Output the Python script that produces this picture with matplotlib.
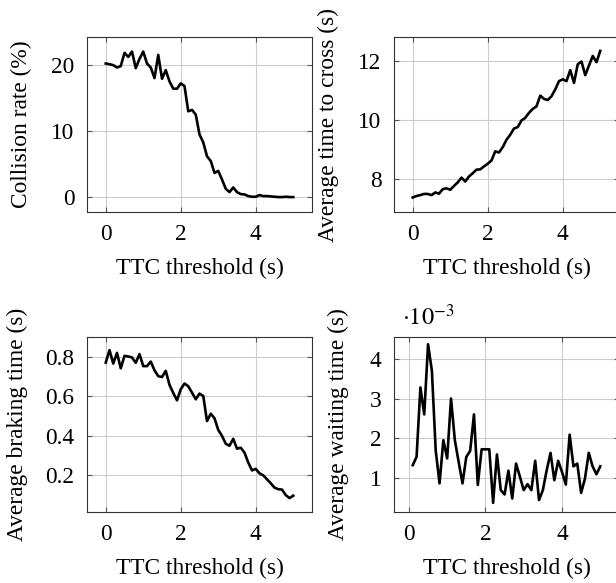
# TTC threshold sweep: collision rate, crossing time, braking time, waiting time

import matplotlib
matplotlib.use('Agg')
import matplotlib.pyplot as plt

ttc = [round(0.1 * i, 1) for i in range(51)]
ttc_wait = ttc[1:]

collision_rate = [20.2, 20.1, 19.95, 19.6, 19.8, 21.8, 21.2, 22.0, 19.5, 20.9,
                  22.0, 20.2, 19.6, 18.0, 21.5, 17.9, 19.2, 17.5, 16.4, 16.4,
                  17.2, 16.8, 13.0, 13.2, 12.5, 9.5, 8.3, 6.2, 5.5, 3.7,
                  4.0, 2.7, 1.3, 0.8, 1.5, 0.8, 0.5, 0.45, 0.2, 0.1,
                  0.1, 0.35, 0.2, 0.2, 0.15, 0.1, 0.05, 0.05, 0.1, 0.05, 0.05]

time_to_cross = [7.38, 7.43, 7.46, 7.50, 7.50, 7.46, 7.55, 7.51, 7.66, 7.69,
                 7.64, 7.77, 7.89, 8.05, 7.92, 8.09, 8.20, 8.32, 8.33, 8.43,
                 8.52, 8.63, 8.94, 8.90, 9.08, 9.33, 9.50, 9.71, 9.76, 9.98,
                 10.07, 10.24, 10.37, 10.46, 10.82, 10.71, 10.67, 10.80, 11.03, 11.31,
                 11.37, 11.31, 11.68, 11.25, 11.88, 11.97, 11.51, 11.84, 12.16, 11.95, 12.33]

braking_time = [0.771, 0.834, 0.766, 0.820, 0.742, 0.805, 0.802, 0.797, 0.770, 0.814,
                0.753, 0.753, 0.776, 0.732, 0.702, 0.698, 0.729, 0.658, 0.617, 0.580,
                0.636, 0.665, 0.651, 0.619, 0.585, 0.614, 0.602, 0.475, 0.512, 0.489,
                0.43, 0.40, 0.36, 0.35, 0.385, 0.335, 0.34, 0.315, 0.265, 0.225,
                0.233, 0.21, 0.20, 0.18, 0.16, 0.138, 0.13, 0.128, 0.10, 0.085, 0.097]

# values in units of 1e-3 s
waiting_time = [1.32, 1.53, 3.28, 2.60, 4.37, 3.70, 1.69, 0.86, 1.95, 1.49,
                3.0, 1.95, 1.40, 0.86, 1.53, 1.68, 2.60, 0.82, 1.72, 1.72,
                1.72, 0.37, 1.59, 0.69, 0.58, 1.18, 0.48, 1.36, 1.03, 0.69,
                0.84, 0.69, 1.43, 0.44, 0.69, 1.19, 1.63, 0.94, 1.43, 1.15,
                0.83, 2.09, 1.29, 1.36, 0.62, 0.98, 1.63, 1.29, 1.09, 1.29]

plt.rcParams['font.family'] = 'Liberation Serif'
plt.rcParams['mathtext.fontset'] = 'stix'
plt.rcParams['font.size'] = 16.8

fig = plt.figure(figsize=(6.16, 5.83), dpi=100)
W, H = 616, 583

def make_ax(left, top, right, bottom):
    return fig.add_axes([left / W, 1 - bottom / H, (right - left) / W, (bottom - top) / H])

ax1 = make_ax(87, 37, 312, 212)
ax2 = make_ax(394, 37, 619, 212)
ax3 = make_ax(87, 336.7, 312, 511.7)
ax4 = make_ax(394, 336.7, 619, 511.7)

ax1.plot(ttc, collision_rate, color='black', lw=1.9)
ax2.plot(ttc, time_to_cross, color='black', lw=1.9)
ax3.plot(ttc, braking_time, color='black', lw=1.9)
ax4.plot(ttc_wait, waiting_time, color='black', lw=1.9)

ax1.set_xlim(-0.5, 5.5)
ax2.set_xlim(-0.5, 5.5)
ax3.set_xlim(-0.5, 5.5)
ax4.set_xlim(-0.39, 5.49)
ax1.set_ylim(-2.2, 24.2)
ax2.set_ylim(6.89, 12.8)
ax3.set_ylim(0.016, 0.902)
ax4.set_ylim(0.146, 4.56)

ax1.set_yticks([0, 10, 20])
ax2.set_yticks([8, 10, 12])
ax3.set_yticks([0.2, 0.4, 0.6, 0.8])
ax3.set_yticklabels(['0.2', '0.4', '0.6', '0.8'])
ax4.set_yticks([1, 2, 3, 4])

ax1.set_ylabel('Collision rate (%)')
ax2.set_ylabel('Average time to cross (s)')
ax3.set_ylabel('Average braking time (s)')
ax4.set_ylabel('Average waiting time (s)')

# label anchor = right edge of the rotated text
ax1.yaxis.set_label_coords(-0.245, 0.5)
ax2.yaxis.set_label_coords(-0.245, 0.5)
ax3.yaxis.set_label_coords(-0.262, 0.5)
ax4.yaxis.set_label_coords(-0.2, 0.5)

for ax in [ax1, ax2, ax3, ax4]:
    ax.set_xticks([0, 2, 4])
    ax.set_xlabel('TTC threshold (s)')
    ax.xaxis.set_label_coords(0.5, -0.263)
    ax.grid(True, color='#cccccc', lw=0.8)
    ax.set_axisbelow(True)
    ax.tick_params(direction='in', length=3.5, width=0.8, color='#555555',
                   top=True, right=True, pad=9)
    for s in ax.spines.values():
        s.set_color('#333333')
        s.set_linewidth(0.8)

ax4.text(0.035, 1.04, r'$\cdot 10^{-3}$', transform=ax4.transAxes,
         ha='left', va='bottom', fontsize=17.5)

fig.savefig('out.png', dpi=100)
